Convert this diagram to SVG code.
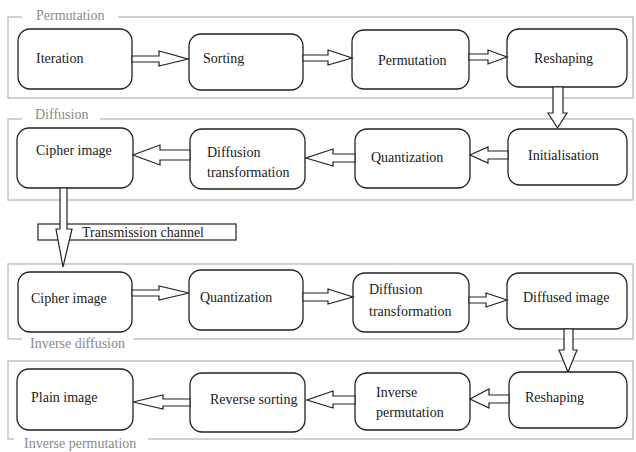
<svg xmlns="http://www.w3.org/2000/svg" width="636" height="452" viewBox="0 0 636 452">
<style>
.frame{fill:none;stroke:#c4c4c4;stroke-width:1.5}
.flabel{font-size:14px;fill:#8a8a8a}
.box{fill:#fff;stroke:#222;stroke-width:1.3}
.t{font-size:14px;fill:#1a1a1a}
.arr{fill:#fff;stroke:#222;stroke-width:1.2;stroke-linejoin:miter}
.chan{fill:#fff;stroke:#222;stroke-width:1.2}
</style>
<rect width="636" height="452" fill="#fff"/>
<g font-family="Liberation Serif, Times New Roman, DejaVu Serif, serif">
<g id="frames">
<path class="frame" d="M22 17 H8 V98 H633 V17 H118"/>
<text class="flabel" x="36" y="20">Permutation</text>
<path class="frame" d="M22 119 H8 V200 H633 V119 H100"/>
<text class="flabel" x="35" y="119">Diffusion</text>
<path class="frame" d="M22 339 H8 V264 H633 V339 H133"/>
<text class="flabel" x="30" y="348">Inverse diffusion</text>
<path class="frame" d="M14 439 H8 V361 H633 V439 H148"/>
<text class="flabel" x="24" y="448">Inverse permutation</text>
</g>
<g id="n-iteration"><rect class="box" x="18" y="29" width="114" height="60" rx="12"/><text class="t" x="36" y="63">Iteration</text></g>
<g id="n-sorting"><rect class="box" x="189" y="34" width="114" height="56" rx="12"/><text class="t" x="203" y="63">Sorting</text></g>
<g id="n-permutation"><rect class="box" x="352" y="30" width="117" height="59" rx="12"/><text class="t" x="378" y="65">Permutation</text></g>
<g id="n-reshaping1"><rect class="box" x="507" y="29" width="120" height="58" rx="12"/><text class="t" x="534" y="63">Reshaping</text></g>
<g id="n-cipher1"><rect class="box" x="17" y="128" width="116" height="60" rx="12"/><text class="t" x="36" y="155">Cipher image</text></g>
<g id="n-difftrans1"><rect class="box" x="190" y="129" width="115" height="60" rx="12"/><text class="t" x="207" y="157">Diffusion</text><text class="t" x="207" y="177">transformation</text></g>
<g id="n-quant1"><rect class="box" x="355" y="129" width="115" height="59" rx="12"/><text class="t" x="371" y="162">Quantization</text></g>
<g id="n-init"><rect class="box" x="508" y="129" width="119" height="56" rx="12"/><text class="t" x="528" y="160">Initialisation</text></g>
<g id="n-channel"><rect class="chan" x="38" y="224" width="198" height="16"/><text class="t" x="82" y="237">Transmission channel</text></g>
<g id="n-cipher2"><rect class="box" x="18" y="272" width="114" height="60" rx="12"/><text class="t" x="31" y="303">Cipher image</text></g>
<g id="n-quant2"><rect class="box" x="189" y="270" width="114" height="60" rx="12"/><text class="t" x="200" y="302">Quantization</text></g>
<g id="n-difftrans2"><rect class="box" x="353" y="273" width="116" height="59" rx="12"/><text class="t" x="369" y="294">Diffusion</text><text class="t" x="369" y="316">transformation</text></g>
<g id="n-diffused"><rect class="box" x="507" y="273" width="120" height="56" rx="12"/><text class="t" x="523" y="302">Diffused image</text></g>
<g id="n-plain"><rect class="box" x="17" y="369" width="116" height="61" rx="12"/><text class="t" x="31" y="402">Plain image</text></g>
<g id="n-revsort"><rect class="box" x="190" y="373" width="115" height="59" rx="12"/><text class="t" x="210" y="404">Reverse sorting</text></g>
<g id="n-invperm"><rect class="box" x="355" y="373" width="115" height="57" rx="12"/><text class="t" x="376" y="397">Inverse</text><text class="t" x="376" y="417">permutation</text></g>
<g id="n-reshaping2"><rect class="box" x="509" y="372" width="118" height="56" rx="12"/><text class="t" x="525" y="402">Reshaping</text></g>
</g>
<g id="connectors">
<path class="arr" d="M132 56 H159 V51 L188 59 L159 66 V62 H132 Z"/>
<path class="arr" d="M303 55 H328 V50 L352 58 L328 65 V61 H303 Z"/>
<path class="arr" d="M469 54 H488 V50 L507 57 L488 64 V60 H469 Z"/>
<path class="arr" d="M553 87 V113 H548 L557.5 128 L567 113 H563 V87 Z"/>
<path class="arr" d="M508 151 H488 V147 L470 155 L488 163 V159 H508 Z"/>
<path class="arr" d="M355 154 H333 V149 L306 158 L333 166 V162 H355 Z"/>
<path class="arr" d="M190 150 H160 V145 L133 155 L160 165 V160 H190 Z"/>
<path class="arr" d="M60 188 V229 H56 L63 267 L72 229 H67 V188 Z"/>
<path class="arr" d="M132 290 H159 V286 L189 293 L159 300 V296 H132 Z"/>
<path class="arr" d="M303 293 H328 V289 L353 297 L328 304 V301 H303 Z"/>
<path class="arr" d="M469 297 H486 V293 L507 300 L486 307 V303 H469 Z"/>
<path class="arr" d="M564 329 V350 H559 L568 372 L577 350 H573 V329 Z"/>
<path class="arr" d="M509 395 H489 V389 L470 399 L489 408 V403 H509 Z"/>
<path class="arr" d="M355 396 H333 V391 L307 400 L333 408 V404 H355 Z"/>
<path class="arr" d="M190 399 H163 V395 L133 402 L163 409 V406 H190 Z"/>
</g>
</svg>
